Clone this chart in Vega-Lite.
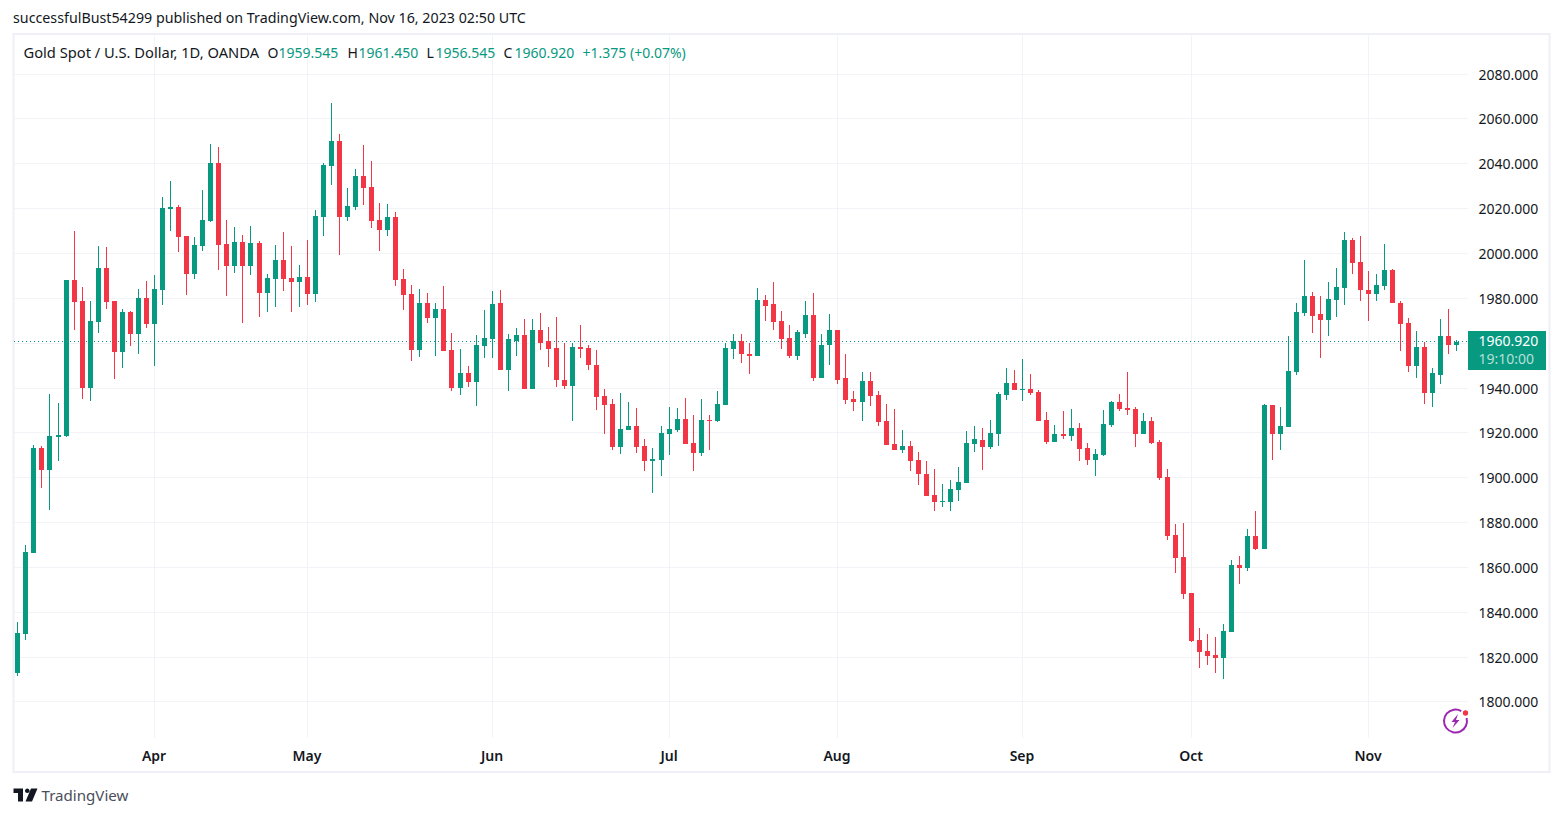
{
  "$schema": "https://vega.github.io/schema/vega-lite/v6.json",
  "width": 1536,
  "height": 738,
  "autosize": "none",
  "padding": {"left": 13.5, "top": 34, "right": 13.5, "bottom": 45},
  "background": "#ffffff",
  "title": {
    "text": "successfulBust54299 published on TradingView.com, Nov 16, 2023 02:50 UTC",
    "anchor": "start",
    "frame": "group",
    "offset": 7,
    "dx": -0.5,
    "fontSize": 14.25,
    "fontWeight": "normal",
    "color": "#131722"
  },
  "config": {
    "font": "Noto Sans",
    "view": {"stroke": "#eff0f7", "strokeWidth": 2}
  },
  "datasets": {
    "candles": [
      {"n":0,"date":"2023-03-09","o":1813.1,"h":1835.7,"l":1811.8,"c":1830.9},
      {"n":1,"date":"2023-03-10","o":1830.5,"h":1870.2,"l":1827.8,"c":1867},
      {"n":2,"date":"2023-03-13","o":1866.6,"h":1914.7,"l":1866.6,"c":1913.4},
      {"n":3,"date":"2023-03-14","o":1913.4,"h":1914.3,"l":1895.6,"c":1903.6},
      {"n":4,"date":"2023-03-15","o":1903.6,"h":1937.5,"l":1885.8,"c":1918.8},
      {"n":5,"date":"2023-03-16","o":1918.3,"h":1933.5,"l":1907.6,"c":1919.2},
      {"n":6,"date":"2023-03-17","o":1918.8,"h":1988.4,"l":1918.3,"c":1988.4},
      {"n":7,"date":"2023-03-20","o":1988.4,"h":2010.2,"l":1966.1,"c":1978.6},
      {"n":8,"date":"2023-03-21","o":1979,"h":1985.3,"l":1935.2,"c":1940.4},
      {"n":9,"date":"2023-03-22","o":1940.4,"h":1979,"l":1934.4,"c":1970.1},
      {"n":10,"date":"2023-03-23","o":1969.7,"h":2003.5,"l":1964.8,"c":1993.7},
      {"n":11,"date":"2023-03-24","o":1993.7,"h":2003.1,"l":1975.5,"c":1978.6},
      {"n":12,"date":"2023-03-27","o":1979,"h":1979,"l":1944.3,"c":1956.3},
      {"n":13,"date":"2023-03-28","o":1956.3,"h":1975.5,"l":1949.2,"c":1974.1},
      {"n":14,"date":"2023-03-29","o":1974.1,"h":1974.6,"l":1959,"c":1964.3},
      {"n":15,"date":"2023-03-30","o":1964.3,"h":1984.4,"l":1955.4,"c":1980.4},
      {"n":16,"date":"2023-03-31","o":1980.4,"h":1987.9,"l":1967,"c":1968.8},
      {"n":17,"date":"2023-04-03","o":1968.8,"h":1990.6,"l":1950,"c":1984.4},
      {"n":18,"date":"2023-04-04","o":1983.9,"h":2025.4,"l":1977.2,"c":2020.5},
      {"n":19,"date":"2023-04-05","o":2020,"h":2032.5,"l":2010.2,"c":2020.9},
      {"n":20,"date":"2023-04-06","o":2020.9,"h":2021.8,"l":2000.9,"c":2007.5},
      {"n":21,"date":"2023-04-10","o":2008,"h":2008,"l":1981.7,"c":1991.1},
      {"n":22,"date":"2023-04-11","o":1991.1,"h":2007.5,"l":1988.8,"c":2004},
      {"n":23,"date":"2023-04-12","o":2003.5,"h":2028.5,"l":2001.3,"c":2015.1},
      {"n":24,"date":"2023-04-13","o":2014.7,"h":2049,"l":2014.2,"c":2040.5},
      {"n":25,"date":"2023-04-14","o":2040.5,"h":2047.7,"l":1992.8,"c":2004},
      {"n":26,"date":"2023-04-17","o":2004.4,"h":2015.1,"l":1981.2,"c":1994.6},
      {"n":27,"date":"2023-04-18","o":1994.6,"h":2012,"l":1991.5,"c":2005.3},
      {"n":28,"date":"2023-04-19","o":2005.3,"h":2008.4,"l":1969.2,"c":1994.6},
      {"n":29,"date":"2023-04-20","o":1994.6,"h":2012.5,"l":1990.6,"c":2004.9},
      {"n":30,"date":"2023-04-21","o":2004.9,"h":2005.8,"l":1971.9,"c":1982.6},
      {"n":31,"date":"2023-04-24","o":1982.6,"h":1991.1,"l":1974.1,"c":1989.3},
      {"n":32,"date":"2023-04-25","o":1988.8,"h":2004,"l":1976.3,"c":1997.3},
      {"n":33,"date":"2023-04-26","o":1997.3,"h":2009.8,"l":1983.5,"c":1988.8},
      {"n":34,"date":"2023-04-27","o":1989.3,"h":2003.5,"l":1974.1,"c":1987.5},
      {"n":35,"date":"2023-04-28","o":1987.5,"h":1995.1,"l":1976.3,"c":1989.7},
      {"n":36,"date":"2023-05-01","o":1989.7,"h":2006.2,"l":1977.2,"c":1982.1},
      {"n":37,"date":"2023-05-02","o":1982.1,"h":2019.6,"l":1978.6,"c":2016.9},
      {"n":38,"date":"2023-05-03","o":2016.5,"h":2040.5,"l":2008,"c":2039.6},
      {"n":39,"date":"2023-05-04","o":2039.2,"h":2067.3,"l":2030.7,"c":2050.3},
      {"n":40,"date":"2023-05-05","o":2050.3,"h":2053.5,"l":1999.5,"c":2016.5},
      {"n":41,"date":"2023-05-08","o":2016.5,"h":2029.4,"l":2014.7,"c":2021.4},
      {"n":42,"date":"2023-05-09","o":2020.9,"h":2037.9,"l":2019.6,"c":2034.7},
      {"n":43,"date":"2023-05-10","o":2034.7,"h":2048.6,"l":2021.8,"c":2029.4},
      {"n":44,"date":"2023-05-11","o":2029.8,"h":2041.4,"l":2011.6,"c":2014.7},
      {"n":45,"date":"2023-05-12","o":2015.1,"h":2022.7,"l":2001.3,"c":2010.7},
      {"n":46,"date":"2023-05-15","o":2010.7,"h":2022.3,"l":2008,"c":2016.5},
      {"n":47,"date":"2023-05-16","o":2016.5,"h":2018.7,"l":1985.7,"c":1988.4},
      {"n":48,"date":"2023-05-17","o":1988.8,"h":1993.3,"l":1975,"c":1981.7},
      {"n":49,"date":"2023-05-18","o":1982.1,"h":1986.2,"l":1952.3,"c":1957.2},
      {"n":50,"date":"2023-05-19","o":1957.2,"h":1984.4,"l":1954.1,"c":1978.1},
      {"n":51,"date":"2023-05-22","o":1978.1,"h":1982.6,"l":1969.2,"c":1971.4},
      {"n":52,"date":"2023-05-23","o":1971.4,"h":1978.1,"l":1954.5,"c":1975.5},
      {"n":53,"date":"2023-05-24","o":1975.5,"h":1985.7,"l":1956.7,"c":1956.7},
      {"n":54,"date":"2023-05-25","o":1957.2,"h":1964.8,"l":1938.9,"c":1940.2},
      {"n":55,"date":"2023-05-26","o":1940.2,"h":1957.6,"l":1937.1,"c":1946.9},
      {"n":56,"date":"2023-05-29","o":1946.9,"h":1950,"l":1940.7,"c":1942.9},
      {"n":57,"date":"2023-05-30","o":1942.9,"h":1963.9,"l":1932.2,"c":1959.4},
      {"n":58,"date":"2023-05-31","o":1959,"h":1975,"l":1953.6,"c":1962.5},
      {"n":59,"date":"2023-06-01","o":1962.1,"h":1983.5,"l":1953.6,"c":1977.7},
      {"n":60,"date":"2023-06-02","o":1977.9,"h":1983.7,"l":1948.1,"c":1948.1},
      {"n":61,"date":"2023-06-05","o":1948.1,"h":1964.5,"l":1938.7,"c":1961.9},
      {"n":62,"date":"2023-06-06","o":1961.4,"h":1966.8,"l":1954.7,"c":1963.7},
      {"n":63,"date":"2023-06-07","o":1963.7,"h":1970.8,"l":1940,"c":1940},
      {"n":64,"date":"2023-06-08","o":1940,"h":1970.8,"l":1940,"c":1965.9},
      {"n":65,"date":"2023-06-09","o":1965.9,"h":1973.5,"l":1957,"c":1960.5},
      {"n":66,"date":"2023-06-12","o":1961,"h":1967.2,"l":1949.8,"c":1957.4},
      {"n":67,"date":"2023-06-13","o":1957.9,"h":1971.7,"l":1940.5,"c":1943.6},
      {"n":68,"date":"2023-06-14","o":1944,"h":1960.5,"l":1940,"c":1940.9},
      {"n":69,"date":"2023-06-15","o":1940.9,"h":1960.5,"l":1925.3,"c":1958.3},
      {"n":70,"date":"2023-06-16","o":1958.3,"h":1968.1,"l":1953.8,"c":1957.4},
      {"n":71,"date":"2023-06-19","o":1957.9,"h":1959.2,"l":1948.1,"c":1950.3},
      {"n":72,"date":"2023-06-20","o":1950.7,"h":1957,"l":1930.2,"c":1936},
      {"n":73,"date":"2023-06-21","o":1936.5,"h":1940,"l":1919.5,"c":1932.5},
      {"n":74,"date":"2023-06-22","o":1932.9,"h":1935.1,"l":1912.8,"c":1913.7},
      {"n":75,"date":"2023-06-23","o":1913.7,"h":1937.8,"l":1910.6,"c":1921.8},
      {"n":76,"date":"2023-06-26","o":1921.3,"h":1933.8,"l":1921.3,"c":1923.5},
      {"n":77,"date":"2023-06-27","o":1923.5,"h":1931.1,"l":1911.1,"c":1913.7},
      {"n":78,"date":"2023-06-28","o":1914.2,"h":1917.7,"l":1903,"c":1907.5},
      {"n":79,"date":"2023-06-29","o":1907.5,"h":1913.3,"l":1893.2,"c":1908.4},
      {"n":80,"date":"2023-06-30","o":1907.9,"h":1923.1,"l":1900.8,"c":1920},
      {"n":81,"date":"2023-07-03","o":1919.5,"h":1931.6,"l":1910.2,"c":1921.8},
      {"n":82,"date":"2023-07-04","o":1921.3,"h":1931.1,"l":1920.4,"c":1926.2},
      {"n":83,"date":"2023-07-05","o":1926.2,"h":1935.6,"l":1915.1,"c":1915.1},
      {"n":84,"date":"2023-07-06","o":1915.5,"h":1928,"l":1903,"c":1911.1},
      {"n":85,"date":"2023-07-07","o":1911.1,"h":1935.1,"l":1909.7,"c":1925.8},
      {"n":86,"date":"2023-07-10","o":1925.8,"h":1928.4,"l":1912.8,"c":1925.3},
      {"n":87,"date":"2023-07-11","o":1925.3,"h":1938.7,"l":1924.9,"c":1932.9},
      {"n":88,"date":"2023-07-12","o":1932.5,"h":1960.1,"l":1932.5,"c":1957.9},
      {"n":89,"date":"2023-07-13","o":1957.4,"h":1964.1,"l":1953,"c":1961},
      {"n":90,"date":"2023-07-14","o":1961,"h":1964.1,"l":1951.2,"c":1955.2},
      {"n":91,"date":"2023-07-17","o":1955.6,"h":1960.1,"l":1946.3,"c":1954.7},
      {"n":92,"date":"2023-07-18","o":1954.7,"h":1984.6,"l":1954.7,"c":1979.3},
      {"n":93,"date":"2023-07-19","o":1979.3,"h":1981.5,"l":1970.3,"c":1977},
      {"n":94,"date":"2023-07-20","o":1977.5,"h":1987.7,"l":1965.9,"c":1969.5},
      {"n":95,"date":"2023-07-21","o":1969.9,"h":1974.4,"l":1957.4,"c":1961.9},
      {"n":96,"date":"2023-07-24","o":1962.3,"h":1968.1,"l":1953.8,"c":1954.7},
      {"n":97,"date":"2023-07-25","o":1954.7,"h":1965.9,"l":1952.5,"c":1965},
      {"n":98,"date":"2023-07-26","o":1964.5,"h":1978.8,"l":1962.3,"c":1972.6},
      {"n":99,"date":"2023-07-27","o":1972.6,"h":1982.8,"l":1943.2,"c":1944.9},
      {"n":100,"date":"2023-07-28","o":1944.9,"h":1964.1,"l":1944.9,"c":1959.6},
      {"n":101,"date":"2023-07-31","o":1959.2,"h":1973,"l":1950.7,"c":1965.9},
      {"n":102,"date":"2023-08-01","o":1965.9,"h":1966.3,"l":1941.8,"c":1944},
      {"n":103,"date":"2023-08-02","o":1944.5,"h":1955.2,"l":1933.3,"c":1934.7},
      {"n":104,"date":"2023-08-03","o":1935.1,"h":1939.1,"l":1929.8,"c":1934.2},
      {"n":105,"date":"2023-08-04","o":1934.2,"h":1947.2,"l":1925.3,"c":1943.2},
      {"n":106,"date":"2023-08-07","o":1943.2,"h":1947.2,"l":1932,"c":1936.5},
      {"n":107,"date":"2023-08-08","o":1936.9,"h":1938.7,"l":1923.1,"c":1924.9},
      {"n":108,"date":"2023-08-09","o":1925.3,"h":1932.9,"l":1914.6,"c":1914.6},
      {"n":109,"date":"2023-08-10","o":1915.1,"h":1930.7,"l":1912.4,"c":1912.4},
      {"n":110,"date":"2023-08-11","o":1912.4,"h":1921.3,"l":1911.1,"c":1914.2},
      {"n":111,"date":"2023-08-14","o":1914.2,"h":1916.4,"l":1903,"c":1907.5},
      {"n":112,"date":"2023-08-15","o":1907.9,"h":1911.9,"l":1896.8,"c":1901.7},
      {"n":113,"date":"2023-08-16","o":1902.1,"h":1907.5,"l":1891.9,"c":1891.9},
      {"n":114,"date":"2023-08-17","o":1892.3,"h":1903.9,"l":1885.2,"c":1889.2},
      {"n":115,"date":"2023-08-18","o":1889.2,"h":1897.2,"l":1887,"c":1889.7},
      {"n":116,"date":"2023-08-21","o":1889.2,"h":1899,"l":1885.2,"c":1895},
      {"n":117,"date":"2023-08-22","o":1894.6,"h":1904.8,"l":1889.7,"c":1898.1},
      {"n":118,"date":"2023-08-23","o":1897.7,"h":1920.9,"l":1897.7,"c":1915.5},
      {"n":119,"date":"2023-08-24","o":1915.1,"h":1923.5,"l":1911.9,"c":1917.3},
      {"n":120,"date":"2023-08-25","o":1917,"h":1922.3,"l":1903.6,"c":1913.8},
      {"n":121,"date":"2023-08-28","o":1913.8,"h":1925.9,"l":1913,"c":1920.1},
      {"n":122,"date":"2023-08-29","o":1919.6,"h":1938.4,"l":1914.3,"c":1937.5},
      {"n":123,"date":"2023-08-30","o":1937,"h":1949.1,"l":1934.8,"c":1942.4},
      {"n":124,"date":"2023-08-31","o":1942.4,"h":1948.2,"l":1939.3,"c":1939.3},
      {"n":125,"date":"2023-09-01","o":1939.3,"h":1953.1,"l":1934.4,"c":1939.7},
      {"n":126,"date":"2023-09-04","o":1939.7,"h":1946.4,"l":1937,"c":1937.9},
      {"n":127,"date":"2023-09-05","o":1938.4,"h":1939.3,"l":1925.4,"c":1925.4},
      {"n":128,"date":"2023-09-06","o":1925.9,"h":1929.5,"l":1915.2,"c":1916.1},
      {"n":129,"date":"2023-09-07","o":1916.1,"h":1923.7,"l":1916.1,"c":1919.6},
      {"n":130,"date":"2023-09-08","o":1919.6,"h":1929.9,"l":1917.4,"c":1918.8},
      {"n":131,"date":"2023-09-11","o":1918.8,"h":1930.8,"l":1916.5,"c":1922.3},
      {"n":132,"date":"2023-09-12","o":1922.3,"h":1924.5,"l":1907.6,"c":1913},
      {"n":133,"date":"2023-09-13","o":1913.4,"h":1915.6,"l":1905.8,"c":1908.1},
      {"n":134,"date":"2023-09-14","o":1908.1,"h":1913,"l":1900.9,"c":1910.7},
      {"n":135,"date":"2023-09-15","o":1910.3,"h":1930.3,"l":1909.8,"c":1924.1},
      {"n":136,"date":"2023-09-18","o":1923.7,"h":1934.4,"l":1922.8,"c":1933.9},
      {"n":137,"date":"2023-09-19","o":1933.9,"h":1937.5,"l":1929.9,"c":1930.8},
      {"n":138,"date":"2023-09-20","o":1931.2,"h":1947.3,"l":1928.1,"c":1930.3},
      {"n":139,"date":"2023-09-21","o":1930.8,"h":1931.7,"l":1913.8,"c":1919.6},
      {"n":140,"date":"2023-09-22","o":1919.6,"h":1929,"l":1919.6,"c":1925.4},
      {"n":141,"date":"2023-09-25","o":1925.4,"h":1927.2,"l":1915.2,"c":1915.6},
      {"n":142,"date":"2023-09-26","o":1916.1,"h":1917,"l":1899.1,"c":1900},
      {"n":143,"date":"2023-09-27","o":1900.5,"h":1904,"l":1872.4,"c":1874.2},
      {"n":144,"date":"2023-09-28","o":1874.6,"h":1879.5,"l":1857.7,"c":1864.4},
      {"n":145,"date":"2023-09-29","o":1864.8,"h":1880,"l":1846.1,"c":1848.3},
      {"n":146,"date":"2023-10-02","o":1848.8,"h":1848.8,"l":1826.9,"c":1827.4},
      {"n":147,"date":"2023-10-03","o":1827.8,"h":1833.2,"l":1815.3,"c":1822.5},
      {"n":148,"date":"2023-10-04","o":1822.9,"h":1830.5,"l":1816.7,"c":1820.7},
      {"n":149,"date":"2023-10-05","o":1821.1,"h":1829.2,"l":1813.1,"c":1819.8},
      {"n":150,"date":"2023-10-06","o":1819.9,"h":1835,"l":1810.5,"c":1831.9},
      {"n":151,"date":"2023-10-09","o":1831.4,"h":1863.5,"l":1831.4,"c":1861.3},
      {"n":152,"date":"2023-10-10","o":1861.3,"h":1865.3,"l":1852.8,"c":1860},
      {"n":153,"date":"2023-10-11","o":1860,"h":1877.4,"l":1858.6,"c":1874.2},
      {"n":154,"date":"2023-10-12","o":1874.2,"h":1885.4,"l":1868,"c":1868.4},
      {"n":155,"date":"2023-10-13","o":1868.4,"h":1933.1,"l":1868.4,"c":1932.6},
      {"n":156,"date":"2023-10-16","o":1932.8,"h":1932.8,"l":1908.3,"c":1919.9},
      {"n":157,"date":"2023-10-17","o":1919.9,"h":1931.9,"l":1912.8,"c":1923.5},
      {"n":158,"date":"2023-10-18","o":1923,"h":1963.2,"l":1923,"c":1948},
      {"n":159,"date":"2023-10-19","o":1947.5,"h":1977.9,"l":1945.8,"c":1974.3},
      {"n":160,"date":"2023-10-20","o":1973.8,"h":1997.5,"l":1972.5,"c":1981.4},
      {"n":161,"date":"2023-10-23","o":1981.4,"h":1983.2,"l":1964.9,"c":1972.5},
      {"n":162,"date":"2023-10-24","o":1973,"h":1981.4,"l":1953.8,"c":1970.7},
      {"n":163,"date":"2023-10-25","o":1970.7,"h":1987.7,"l":1963.2,"c":1980.1},
      {"n":164,"date":"2023-10-26","o":1979.6,"h":1993.9,"l":1972.1,"c":1985.4},
      {"n":165,"date":"2023-10-27","o":1985,"h":2010,"l":1977.4,"c":2006.4},
      {"n":166,"date":"2023-10-30","o":2006.4,"h":2007.3,"l":1991.2,"c":1996.1},
      {"n":167,"date":"2023-10-31","o":1996.6,"h":2008.2,"l":1979.2,"c":1983.7},
      {"n":168,"date":"2023-11-01","o":1984.1,"h":1992.6,"l":1970.3,"c":1982.3},
      {"n":169,"date":"2023-11-02","o":1982.3,"h":1991.2,"l":1979.2,"c":1986.3},
      {"n":170,"date":"2023-11-03","o":1985.9,"h":2004.6,"l":1983.7,"c":1993},
      {"n":171,"date":"2023-11-06","o":1993,"h":1993.5,"l":1977.9,"c":1977.9},
      {"n":172,"date":"2023-11-07","o":1978.3,"h":1978.8,"l":1956.9,"c":1968.9},
      {"n":173,"date":"2023-11-08","o":1969.4,"h":1971.6,"l":1947.5,"c":1950.2},
      {"n":174,"date":"2023-11-09","o":1950.2,"h":1965.8,"l":1944.9,"c":1958.7},
      {"n":175,"date":"2023-11-10","o":1958.7,"h":1960.9,"l":1933.3,"c":1938.2},
      {"n":176,"date":"2023-11-13","o":1938.2,"h":1949.3,"l":1931.9,"c":1946.7},
      {"n":177,"date":"2023-11-14","o":1946.2,"h":1971.2,"l":1941.8,"c":1963.6},
      {"n":178,"date":"2023-11-15","o":1963.6,"h":1975.6,"l":1955.6,"c":1959.6},
      {"n":179,"date":"2023-11-16","o":1959.545,"h":1961.45,"l":1956.545,"c":1960.92}
    ],
    "labels": [
      {"n":31.08,"price":2089.1,"kind":"ink","label":"O"},
      {"n":32.45,"price":2089.1,"kind":"up","label":"1959.545"},
      {"n":41.03,"price":2089.1,"kind":"ink","label":"H"},
      {"n":42.4,"price":2089.1,"kind":"up","label":"1961.450"},
      {"n":50.86,"price":2089.1,"kind":"ink","label":"L"},
      {"n":51.98,"price":2089.1,"kind":"up","label":"1956.545"},
      {"n":60.44,"price":2089.1,"kind":"ink","label":"C"},
      {"n":61.8,"price":2089.1,"kind":"up","label":"1960.920"},
      {"n":70.26,"price":2089.1,"kind":"up","label":"+1.375 (+0.07%)"},
      {"n":181.64,"price":1960.92,"kind":"boxprice","label":"1960.920"},
      {"n":181.64,"price":1952.7,"kind":"boxtime","label":"19:10:00"}
    ],
    "gridH": [
      {"n":-0.535,"n2":180.31,"price":1800},
      {"n":-0.535,"n2":180.31,"price":1820},
      {"n":-0.535,"n2":180.31,"price":1840},
      {"n":-0.535,"n2":180.31,"price":1860},
      {"n":-0.535,"n2":180.31,"price":1880},
      {"n":-0.535,"n2":180.31,"price":1900},
      {"n":-0.535,"n2":180.31,"price":1920},
      {"n":-0.535,"n2":180.31,"price":1940},
      {"n":-0.535,"n2":180.31,"price":1960},
      {"n":-0.535,"n2":180.31,"price":1980},
      {"n":-0.535,"n2":180.31,"price":2000},
      {"n":-0.535,"n2":180.31,"price":2020},
      {"n":-0.535,"n2":180.31,"price":2040},
      {"n":-0.535,"n2":180.31,"price":2060},
      {"n":-0.535,"n2":180.31,"price":2080}
    ],
    "gridV": [
      {"n":17,"price":1784.17,"price2":2098.06},
      {"n":36,"price":1784.17,"price2":2098.06},
      {"n":59,"price":1784.17,"price2":2098.06},
      {"n":81,"price":1784.17,"price2":2098.06},
      {"n":102,"price":1784.17,"price2":2098.06},
      {"n":125,"price":1784.17,"price2":2098.06},
      {"n":146,"price":1784.17,"price2":2098.06},
      {"n":168,"price":1784.17,"price2":2098.06}
    ]
  },
  "encoding": {
    "x": {
      "field": "n",
      "type": "quantitative",
      "title": null,
      "scale": {"domain": [-0.535, 180.31], "range": [0, 1454], "nice": false, "zero": false, "padding": 0, "round": true},
      "axis": {
        "values": [17, 36, 59, 81, 102, 125, 146, 168],
        "labelExpr": "{17:'Apr',36:'May',59:'Jun',81:'Jul',102:'Aug',125:'Sep',146:'Oct',168:'Nov'}[datum.value]",
        "grid": false,
        "domain": false,
        "ticks": false,
        "labelPadding": -23,
        "labelOffset": -1,
        "labelFontSize": 14,
        "labelFontWeight": 600,
        "labelColor": "#131722",
        "labelFlush": false,
        "labelOverlap": false
      }
    },
    "y": {
      "field": "price",
      "type": "quantitative",
      "title": null,
      "scale": {"domain": [1784.17, 2098.06], "range": [704, 0], "nice": false, "zero": false, "round": true},
      "axis": {
        "orient": "right",
        "values": [1800, 1820, 1840, 1860, 1880, 1900, 1920, 1940, 1960, 1980, 2000, 2020, 2040, 2060, 2080],
        "labelExpr": "datum.value == 1960 ? '' : format(datum.value, '.3f')",
        "grid": false,
        "domain": false,
        "ticks": false,
        "labelPadding": -71.5,
        "labelFontSize": 14,
        "labelColor": "#131722",
        "labelFlush": false,
        "labelOverlap": false
      }
    }
  },
  "layer": [
    {
      "data": {"name": "gridH"},
      "mark": {"type": "rule", "color": "#f2f3f7", "strokeWidth": 1, "yOffset": -0.5},
      "encoding": {"x2": {"field": "n2"}}
    },
    {
      "data": {"name": "gridV"},
      "mark": {"type": "rule", "color": "#f2f3f7", "strokeWidth": 1},
      "encoding": {"y2": {"field": "price2"}}
    },
    {
      "data": {"values": [{"n": -0.535, "n2": 180.3, "price": 1960.92}]},
      "mark": {"type": "rule", "color": "#089981", "strokeWidth": 1, "strokeDash": [1, 3], "xOffset": 0.5, "x2Offset": 0.5, "yOffset": -0.5},
      "encoding": {"x2": {"field": "n2"}}
    },
    {
      "data": {"name": "candles"},
      "mark": {"type": "rule", "strokeWidth": 1},
      "encoding": {
        "y": {"field": "l", "type": "quantitative", "title": null, "scale": {"domain": [1784.17, 2098.06], "range": [704, 0], "nice": false, "zero": false, "round": true}},
        "y2": {"field": "h"},
        "color": {"condition": {"test": "datum.c >= datum.o", "value": "#089981"}, "value": "#F23645"}
      }
    },
    {
      "data": {"name": "candles"},
      "mark": {"type": "bar", "width": 5},
      "encoding": {
        "y": {"field": "o", "type": "quantitative", "title": null, "scale": {"domain": [1784.17, 2098.06], "range": [704, 0], "nice": false, "zero": false, "round": true}},
        "y2": {"field": "c"},
        "color": {"condition": {"test": "datum.c >= datum.o", "value": "#089981"}, "value": "#F23645"}
      }
    },
    {
      "data": {"values": [{"n": 181, "price": 1960.92}]},
      "mark": {"type": "point", "shape": "M-5.5,-11H72.5V28H-5.5Z", "size": 4, "filled": true, "opacity": 1, "color": "#089981"}
    },
    {
      "data": {"values": [{"n": 0.65, "price": 2089.1, "label": "Gold Spot / U.S. Dollar, 1D, OANDA"}]},
      "mark": {"type": "text", "align": "left", "baseline": "middle", "fontSize": 14.7, "color": "#131722"},
      "encoding": {"text": {"field": "label"}}
    },
    {
      "data": {"name": "labels"},
      "mark": {"type": "text", "align": "left", "baseline": "middle", "fontSize": 14},
      "encoding": {
        "text": {"field": "label"},
        "color": {
          "field": "kind",
          "type": "nominal",
          "legend": null,
          "scale": {"domain": ["ink", "up", "boxprice", "boxtime"], "range": ["#131722", "#089981", "#ffffff", "#b5e0d8"]}
        }
      }
    },
    {
      "data": {"values": [{"n": 178.8, "price": 1791.75}]},
      "mark": {"type": "point", "shape": "M5.75,-9.96A11.5,11.5 0 1 0 11.1,-3", "size": 4, "filled": false, "opacity": 1, "color": "#9c27b0", "strokeWidth": 2}
    },
    {
      "data": {"values": [{"n": 178.8, "price": 1791.75}]},
      "mark": {"type": "point", "shape": "M2.5,-7L-4,1H-0.5L-3,7L4,-1H0.5Z", "size": 4, "filled": true, "opacity": 1, "color": "#9c27b0"}
    },
    {
      "data": {"values": [{"n": 180.05, "price": 1795.5}]},
      "mark": {"type": "point", "shape": "circle", "size": 28, "filled": true, "opacity": 1, "color": "#F23645"}
    },
    {
      "data": {"values": [{"n": 0.9, "price": 1758.76}]},
      "mark": {"type": "point", "shape": "M-12,-6.5H-2.5V6.5H-7.5V-2H-12ZM-0.5,-4.2A2.3,2.3 0 1 0 4.1,-4.2A2.3,2.3 0 1 0 -0.5,-4.2ZM5.5,-6.5H12L6.5,6.5H0Z", "size": 4, "filled": true, "opacity": 1, "color": "#131722"}
    },
    {
      "data": {"values": [{"n": 3.0, "price": 1758.3, "label": "TradingView"}]},
      "mark": {"type": "text", "align": "left", "baseline": "middle", "fontSize": 15.1, "color": "#4a4e5a"},
      "encoding": {"text": {"field": "label"}}
    }
  ]
}
